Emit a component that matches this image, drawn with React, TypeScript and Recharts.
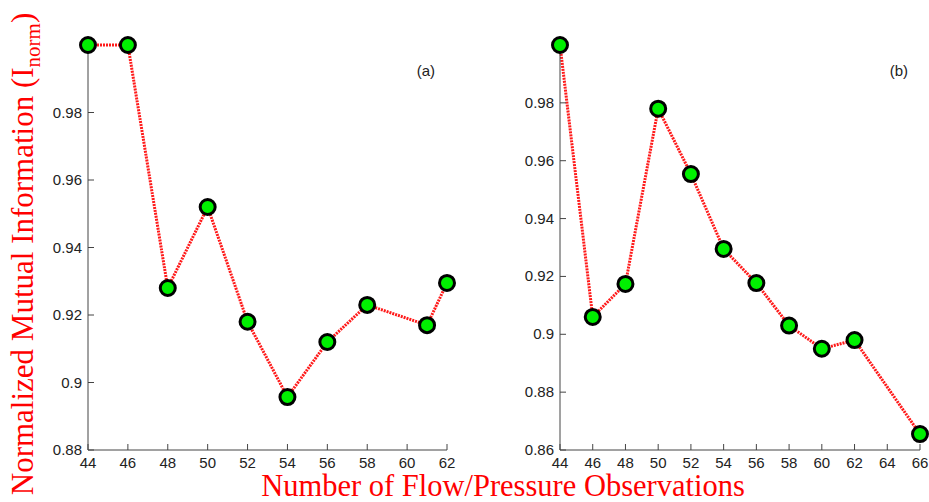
import React from 'react';
import { LineChart, Line, XAxis, YAxis } from 'recharts';

// ─── Data ─────────────────────────────────────────────────────────────────────

const obsA = [44, 46, 48, 50, 52, 54, 56, 58, 61, 62];
const inormA = [1.0, 1.0, 0.928, 0.952, 0.918, 0.8957, 0.912, 0.923, 0.917, 0.9295];

const obsB = [44, 46, 48, 50, 52, 54, 56, 58, 60, 62, 66];
const inormB = [1.0, 0.906, 0.9174, 0.978, 0.9554, 0.9295, 0.9177, 0.903, 0.895, 0.898, 0.8655];

const xTicksA = [44, 46, 48, 50, 52, 54, 56, 58, 60, 62];
const yTicksA = [0.88, 0.9, 0.92, 0.94, 0.96, 0.98];
const xTicksB = [44, 46, 48, 50, 52, 54, 56, 58, 60, 62, 64, 66];
const yTicksB = [0.86, 0.88, 0.9, 0.92, 0.94, 0.96, 0.98];

const rowsA = obsA.map((x, i) => ({ x, v: inormA[i] }));
const rowsB = obsB.map((x, i) => ({ x, v: inormB[i] }));

// ─── Styling ──────────────────────────────────────────────────────────────────

const FRAME = '#444';
const TICK_LEN = 6;
const LABEL_FONT = '"Liberation Sans", Arial, sans-serif';
const TITLE_FONT = '"Liberation Serif", "Times New Roman", serif';

// Inward-facing ticks (MATLAB style), labels only on bottom/left
function BottomTick({ x, y, payload }: any) {
  return (
    <g>
      <line x1={x} x2={x} y1={y} y2={y - TICK_LEN} stroke={FRAME} strokeWidth={1} />
      <text x={x} y={y + 18} textAnchor="middle" fontSize={15} fontFamily={LABEL_FONT} fill="#222">
        {payload.value}
      </text>
    </g>
  );
}
function LeftTick({ x, y, payload }: any) {
  return (
    <g>
      <line x1={x} x2={x + TICK_LEN} y1={y} y2={y} stroke={FRAME} strokeWidth={1} />
      <text x={x - 6} y={y + 5} textAnchor="end" fontSize={15} fontFamily={LABEL_FONT} fill="#222">
        {String(payload.value)}
      </text>
    </g>
  );
}
function TopTick({ x, y }: any) {
  return <line x1={x} x2={x} y1={y} y2={y + TICK_LEN} stroke={FRAME} strokeWidth={1} />;
}
function RightTick({ x, y }: any) {
  return <line x1={x} x2={x - TICK_LEN} y1={y} y2={y} stroke={FRAME} strokeWidth={1} />;
}

function Panel({ rows, xDomain, yDomain, xTicks, yTicks, width, leftW, rightM, tag }: {
  rows: { x: number; v: number }[]; xDomain: [number, number]; yDomain: [number, number];
  xTicks: number[]; yTicks: number[]; width: number; leftW: number; rightM: number; tag: string;
}) {
  const plotRight = width - rightM;
  return (
    <LineChart width={width} height={502} data={rows}
               margin={{ top: 45, right: rightM, bottom: 22, left: 0 }}>
      <Line type="linear" dataKey="v" stroke="#ff1a1a" strokeWidth={3} strokeDasharray="2 1"
            dot={{ r: 7.5, fill: '#00f000', stroke: '#000', strokeWidth: 3, strokeDasharray: 'none' }}
            isAnimationActive={false} />
      <XAxis dataKey="x" type="number" domain={xDomain} ticks={xTicks} interval={0}
             height={30} tickSize={0} tickMargin={0} tick={<BottomTick />}
             axisLine={{ stroke: FRAME }} tickLine={false} />
      <XAxis xAxisId="top" orientation="top" type="number" domain={xDomain} ticks={xTicks}
             interval={0} height={0} tickSize={0} tickMargin={0} tick={<TopTick />}
             axisLine={{ stroke: FRAME }} tickLine={false} />
      <YAxis type="number" domain={yDomain} ticks={yTicks} interval={0} width={leftW}
             tickSize={0} tickMargin={0} tick={<LeftTick />}
             axisLine={{ stroke: FRAME }} tickLine={false} />
      <YAxis yAxisId="right" orientation="right" type="number" domain={yDomain} ticks={yTicks}
             interval={0} width={0} tickSize={0} tickMargin={0} tick={<RightTick />}
             axisLine={{ stroke: FRAME }} tickLine={false} />
      <text x={plotRight - 12} y={76} textAnchor="end" fontSize={15} fontFamily={LABEL_FONT} fill="#222">
        {tag}
      </text>
    </LineChart>
  );
}

export default function App() {
  return (
    <div style={{ position: 'absolute', left: 0, top: 0, width: 929, height: 502, background: '#fff' }}>
      <div style={{ position: 'absolute', left: 0, top: 0 }}>
        <Panel rows={rowsA} xDomain={[44, 62]} yDomain={[0.88, 1]} xTicks={xTicksA} yTicks={yTicksA}
               width={470} leftW={88} rightM={23} tag="(a)" />
      </div>
      <div style={{ position: 'absolute', left: 470, top: 0 }}>
        <Panel rows={rowsB} xDomain={[44, 66]} yDomain={[0.86, 1]} xTicks={xTicksB} yTicks={yTicksB}
               width={459} leftW={90} rightM={9} tag="(b)" />
      </div>
      <svg width={929} height={502} style={{ position: 'absolute', left: 0, top: 0, pointerEvents: 'none' }}>
        <text x={503} y={496} textAnchor="middle" fontSize={30.5} fontFamily={TITLE_FONT} fill="#ff0000">
          Number of Flow/Pressure Observations
        </text>
        <text transform="translate(33,254) rotate(-90)" textAnchor="middle" fontSize={31}
              fontFamily={TITLE_FONT} fill="#ff0000">
          Normalized Mutual Information (I<tspan fontSize={21} dy={7}>norm</tspan><tspan dy={-7}>)</tspan>
        </text>
      </svg>
    </div>
  );
}
